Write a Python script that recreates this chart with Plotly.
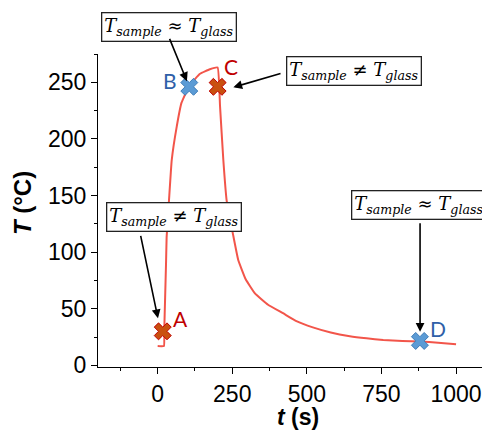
import plotly.graph_objects as go

# Temperature curve
time_s = [0, 21, 22, 25, 28, 30, 38, 47, 64, 80, 106, 142, 175, 201,
          209, 220, 231, 253, 270, 295, 326, 370, 420, 465, 520, 580, 644,
          700, 756, 820, 879, 940, 1000]
temp_c = [17, 17, 30, 60, 90, 113, 146, 181, 211, 232, 247, 257.5, 261.5, 263,
          229, 181.6, 146, 115, 93, 76, 63.5, 53.5, 46, 39, 33.5, 29, 25.7,
          23.8, 22.3, 21.5, 21, 20, 18.5]

# Marked points
red_labels = ["A", "C"]
red_t = [17, 201]
red_T = [30, 246]
blue_labels = ["B", "D"]
blue_t = [106, 879]
blue_T = [246, 21.5]

x_ticks = [0, 250, 500, 750, 1000]
y_ticks = [0, 50, 100, 150, 200, 250]

fig = go.Figure()
fig.add_trace(go.Scatter(x=time_s, y=temp_c, mode="lines",
                         line=dict(color="#F2554A", width=2, shape="spline",
                                   smoothing=0.3),
                         showlegend=False))
fig.add_trace(go.Scatter(x=red_t, y=red_T, mode="markers",
                         marker=dict(symbol="x", size=15, color="#C9500F",
                                     line=dict(color="#C00000", width=1)),
                         showlegend=False))
fig.add_trace(go.Scatter(x=blue_t, y=blue_T, mode="markers",
                         marker=dict(symbol="x", size=15, color="#5B9BD5",
                                     line=dict(color="#3E7CB8", width=1)),
                         showlegend=False))

ann = []
# letter labels
letter_pos = {"A": (18, 13, "#C00000"), "C": (13, 20, "#C00000"),
              "B": (-19, 6, "#2F5FA8"), "D": (18, 12, "#2F5FA8")}
for lab, t, T in zip(red_labels + blue_labels, red_t + blue_t, red_T + blue_T):
    dx, dy, col = letter_pos[lab]
    ann.append(dict(x=t, y=T, xref="x", yref="y", text=lab, showarrow=False,
                    xshift=dx, yshift=dy, xanchor="center", yanchor="middle",
                    font=dict(family="Lato", size=21, color=col)))

approx = "<i>T</i><sub><i>sample</i></sub> ≈ <i>T</i><sub><i>glass</i></sub>"
noteq = "<i>T</i><sub><i>sample</i></sub> ≠ <i>T</i><sub><i>glass</i></sub>"
boxes = [(0.184, 1.087, approx), (0.667, 0.947, noteq),
         (0.199, 0.479, noteq), (0.837, 0.518, approx)]
for xp, yp, txt in boxes:
    ann.append(dict(x=xp, y=yp, xref="paper", yref="paper", text=txt,
                    xanchor="center", yanchor="middle",
                    showarrow=False, bgcolor="white", bordercolor="#222",
                    borderwidth=1.3, borderpad=2,
                    font=dict(family="DejaVu Serif", size=18, color="black")))

arrows = [((38, 289.7), (98, 251)), ((416.8, 258.2), (253.6, 245.6)),
          ((-58, 115.7), (1, 41.5)), ((879.4, 126.9), (879.4, 29.7))]
for (ta, Ta), (th, Th) in arrows:
    ann.append(dict(x=th, y=Th, ax=ta, ay=Ta, xref="x", yref="y",
                    axref="x", ayref="y", text="", showarrow=True,
                    arrowhead=2, arrowsize=1.1, arrowwidth=1.6,
                    arrowcolor="black"))

# axis titles
ann.append(dict(x=0.52, y=-0.16, xref="paper", yref="paper",
                xanchor="center", yanchor="middle",
                text="<b><i>t</i> (s)</b>", showarrow=False,
                font=dict(family="Liberation Sans", size=23, color="black")))
ann.append(dict(x=-0.195, y=0.524, xref="paper", yref="paper",
                xanchor="center", yanchor="middle",
                text="<b><i>T</i> (°C)</b>", showarrow=False, textangle=-90,
                font=dict(family="Liberation Sans", size=24, color="black")))

fig.update_layout(
    width=482, height=423,
    margin=dict(l=90, r=8, t=46, b=64),
    plot_bgcolor="white", paper_bgcolor="white",
    annotations=ann,
    xaxis=dict(range=[-200, 1087], tickvals=x_ticks, showgrid=False,
               zeroline=False, showline=True, linecolor="black", linewidth=1.3,
               ticks="outside", ticklen=6, tickwidth=1.3, tickcolor="black",
               automargin=False,
               minor=dict(dtick=125, tick0=-125, ticks="outside", ticklen=3,
                          tickwidth=1.2, tickcolor="black"),
               tickfont=dict(family="Liberation Sans", size=23, color="black")),
    yaxis=dict(range=[-1.5, 275], tickvals=y_ticks, showgrid=False,
               zeroline=False, showline=True, linecolor="black", linewidth=1.3,
               ticks="outside", ticklen=6, tickwidth=1.3, tickcolor="black",
               automargin=False,
               minor=dict(dtick=25, tick0=0, ticks="outside", ticklen=3,
                          tickwidth=1.2, tickcolor="black"),
               tickfont=dict(family="Liberation Sans", size=23, color="black")),
)

fig.write_html("out.html")
